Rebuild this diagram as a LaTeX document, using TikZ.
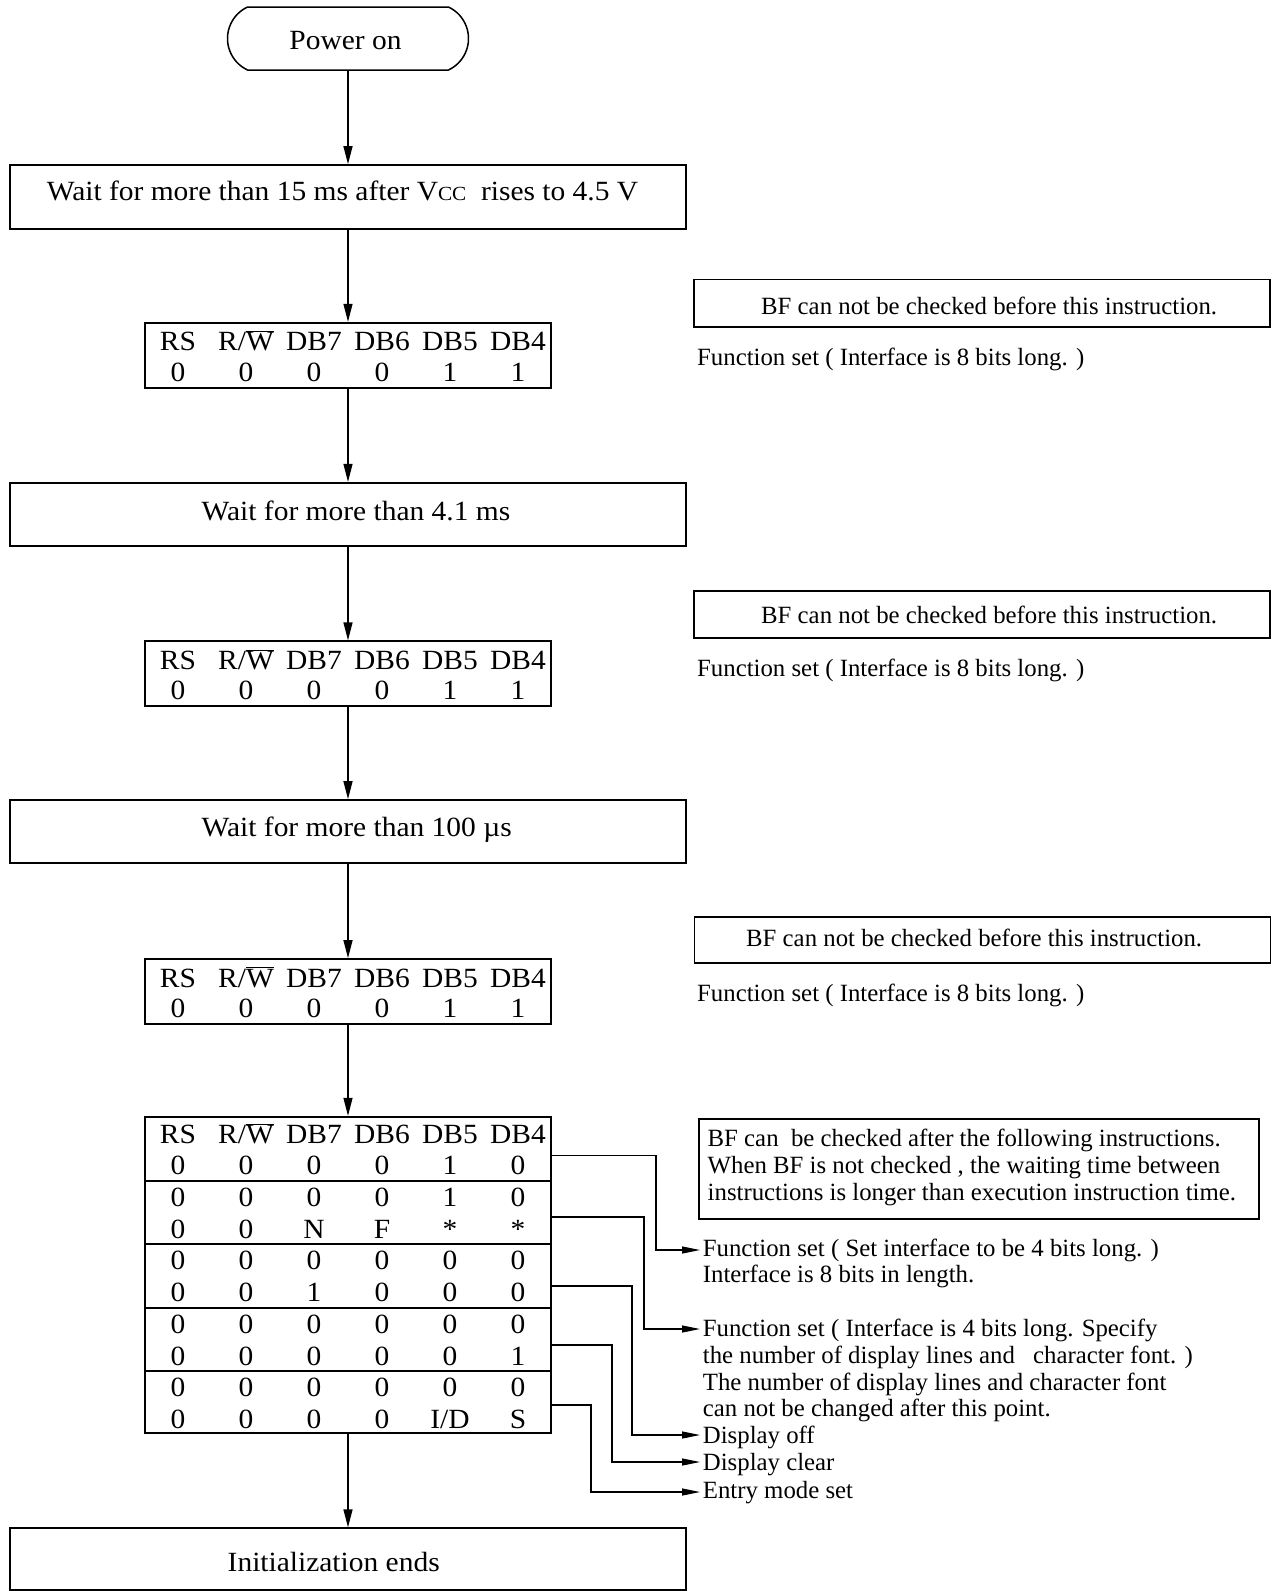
\documentclass[tikz,border=0pt]{standalone}
\usepackage{fontspec}
\setmainfont{Liberation Serif}
\newfontfamily\mfont[FakeStretch=1.06]{Liberation Serif}
\usetikzlibrary{arrows.meta,shapes.misc}
\newcommand\rwbar{R/$\overline{\hbox{W}}$}
\newcommand\idslash{I/D}
\tikzset{
  box/.style={draw, line width=1.8pt, inner sep=0pt},
  nbox/.style={draw, line width=1.6pt, inner sep=0pt},
  big/.style={font=\mfont\fontsize{27.8}{33}\selectfont, inner sep=0pt, anchor=base},
  small/.style={font=\fontsize{24.8}{26.7}\selectfont, inner sep=0pt, anchor=base west},
  flow/.style={line width=1.3pt, -{Triangle[length=18pt,width=9pt]}},
  conn/.style={line width=1.2pt, -{Triangle[length=18pt,width=7pt]}},
}
\begin{document}
\begin{tikzpicture}[x=1pt,y=-1pt]
\useasboundingbox (0,0) rectangle (1282,1591);

% ---------- main flow boxes ----------
\node[draw, line width=1.5pt, inner sep=0pt, rounded rectangle, rounded rectangle arc length=130,
      minimum width=241pt, minimum height=63pt] (pw) at (348,38.5) {};
\node[big] (pwt) at (345.5,49.3) {Power on};

\node[box, minimum width=676pt, minimum height=64.3pt] (vcc) at (348,197.2) {};
\node[big] (vcct) at (342.5,200) {Wait for more than 15 ms after V{\fontsize{20}{20}\selectfont CC}\ \ rises to 4.5 V};

\node[box, minimum width=406pt, minimum height=65.6pt] (ta) at (348,355.5) {};

\node[box, minimum width=676pt, minimum height=63.3pt] (wa) at (348,514.4) {};
\node[big] (wat) at (356,520) {Wait for more than 4.1 ms};

\node[box, minimum width=406pt, minimum height=64.5pt] (tb) at (348,673.5) {};

\node[box, minimum width=676pt, minimum height=63.3pt] (wb) at (348,831.7) {};
\node[big] (wbt) at (356.7,836.7) {Wait for more than 100 µs};

\node[box, minimum width=406pt, minimum height=65pt] (tc) at (348,991.5) {};

\node[box, minimum width=406pt, minimum height=316.3pt] (td) at (348,1274.85) {};

\node[box, minimum width=676pt, minimum height=61.5pt] (ie) at (348,1559) {};
\node[big] (iet) at (333.7,1571.7) {Initialization ends};

% ---------- table texts ----------
\foreach \tn/\tp in {ta/322.7, tb/641.3, tc/959} {
  \foreach \xx/\hh [count=\i] in {178/RS, 246/\rwbar, 314/DB7, 382/DB6, 450/DB5, 518/DB4}
    \node[big] (\tn h\i) at (\xx,\tp+28) {\hh};
  \foreach \xx/\vv [count=\i] in {178/0, 246/0, 314/0, 382/0, 450/1, 518/1}
    \node[big] (\tn v\i) at (\xx,\tp+58.5) {\vv};
}
\foreach \xx/\hh [count=\i] in {178/RS, 246/\rwbar, 314/DB7, 382/DB6, 450/DB5, 518/DB4}
  \node[big] (tdh\i) at (\xx,1143.3) {\hh};
\foreach \row/\vals in {1/{0,0,0,0,1,0}, 2/{0,0,0,0,1,0}, 3/{0,0,N,F,*,*},
                        4/{0,0,0,0,0,0}, 5/{0,0,1,0,0,0}, 6/{0,0,0,0,0,0},
                        7/{0,0,0,0,0,1}, 8/{0,0,0,0,0,0}, 9/{0,0,0,0,\idslash,S}} {
  \foreach \vv [count=\i] in \vals
    \node[big] (td\row c\i) at (110+68*\i,1143.3+31.67*\row) {\vv};
}
% row separators of the last table
\foreach \sy in {1181,1244.3,1307.7,1371}
  \draw[line width=1.8pt] (145,\sy) -- (551,\sy);

% ---------- main arrows ----------
\draw[flow] (pw) -- (vcc);
\draw[flow] (vcc) -- (ta);
\draw[flow] (ta) -- (wa);
\draw[flow] (wa) -- (tb);
\draw[flow] (tb) -- (wb);
\draw[flow] (wb) -- (tc);
\draw[flow] (tc) -- (td);
\draw[flow] (td) -- (ie);

% ---------- right side notes ----------
\node[nbox, minimum width=576pt, minimum height=47.4pt] (bfa) at (982,303) {};
\node[small] (bfat) at (761,314) {BF can not be checked before this instruction.};
\node[small] (fsa) at (697,365) {Function set ( Interface is 8 bits long. )};

\node[nbox, minimum width=576pt, minimum height=47.4pt] (bfb) at (982,614.5) {};
\node[small] (bfbt) at (761,623) {BF can not be checked before this instruction.};
\node[small] (fsb) at (697,676) {Function set ( Interface is 8 bits long. )};

\node[nbox, minimum width=576pt, minimum height=46.5pt] (bfc) at (982.5,940) {};
\node[small] (bfct) at (746,946) {BF can not be checked before this instruction.};
\node[small] (fsc) at (697,1001) {Function set ( Interface is 8 bits long. )};

\node[nbox, minimum width=560pt, minimum height=100pt] (bfd) at (979,1169) {};
\node[small] (bfd1) at (707.5,1146.7) {BF can\ \ be checked after the following instructions.};
\node[small] (bfd2) at (707.5,1173.3) {When BF is not checked , the waiting time between};
\node[small] (bfd3) at (707.5,1200) {instructions is longer than execution instruction time.};

\node[small] (na1) at (702.7,1256.7) {Function set ( Set interface to be 4 bits long. )};
\node[small] (na2) at (702.7,1282.7) {Interface is 8 bits in length.};
\node[small] (nb1) at (702.7,1336.7) {Function set ( Interface is 4 bits long. Specify};
\node[small] (nb2) at (702.7,1363.3) {the number of display lines and\hspace{12pt} character font. )};
\node[small] (nb3) at (702.7,1390) {The number of display lines and character font};
\node[small] (nb4) at (702.7,1416.7) {can not be changed after this point.};
\node[small] (nc) at (702.7,1443.3) {Display off};
\node[small] (nd) at (702.7,1470) {Display clear};
\node[small] (ne) at (702.7,1498) {Entry mode set};

% ---------- connectors from the last table ----------
\coordinate (r1) at (551,1155.7);
\coordinate (r2) at (551,1217);
\coordinate (r3) at (551,1286);
\coordinate (r4) at (551,1345);
\coordinate (r5) at (551,1405);
\coordinate (e1) at (700,1250);
\coordinate (e2) at (700,1329);
\coordinate (e3) at (700,1435);
\coordinate (e4) at (700,1462);
\coordinate (e5) at (700,1492);
\draw[conn] (r1) -- ++(105,0) |- (e1);
\draw[conn] (r2) -- ++(93,0) |- (e2);
\draw[conn] (r3) -- ++(81,0) |- (e3);
\draw[conn] (r4) -- ++(61,0) |- (e4);
\draw[conn] (r5) -- ++(40,0) |- (e5);
\end{tikzpicture}
\end{document}
